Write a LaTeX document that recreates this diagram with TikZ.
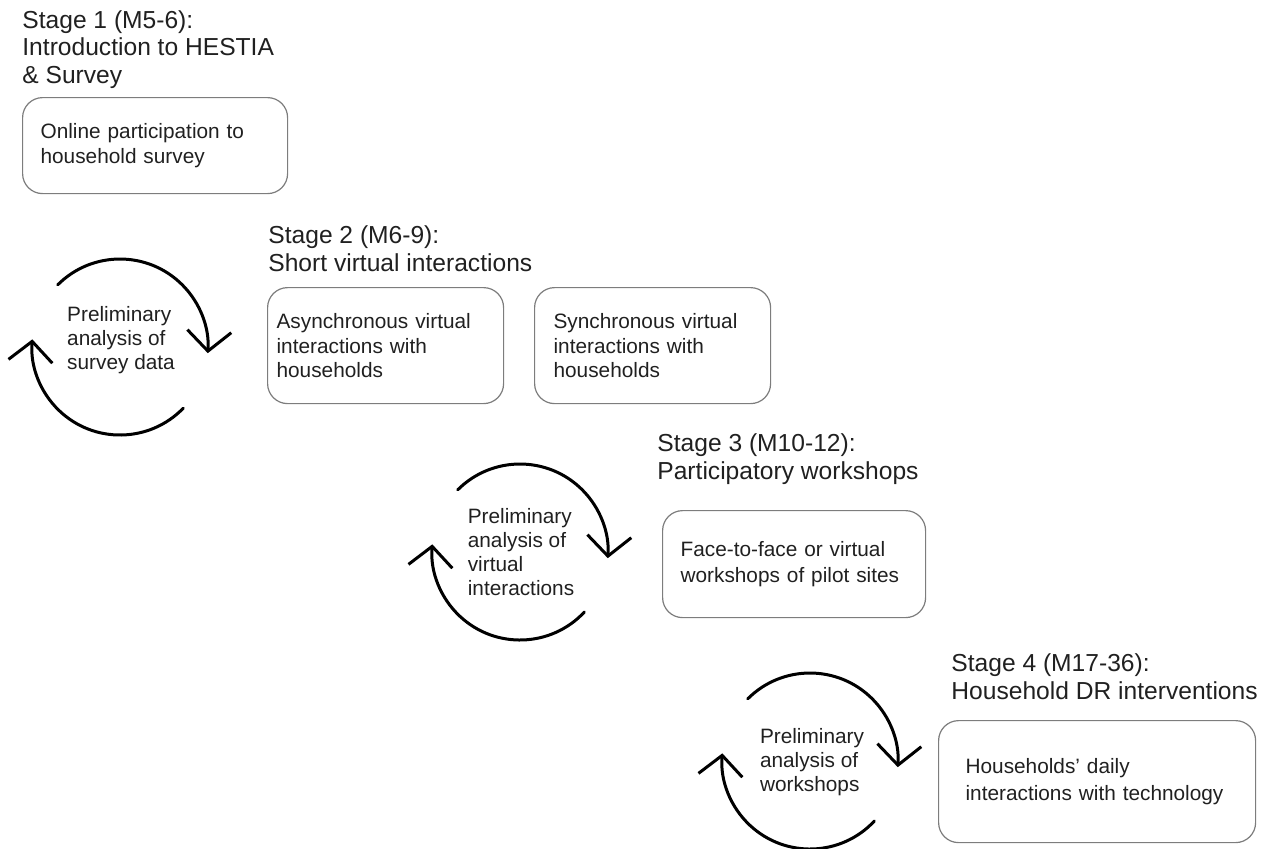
\documentclass[tikz,border=0pt]{standalone}
\usepackage{fontspec}
\setmainfont{Liberation Sans}
\usepackage{pgf,tikz}
\usetikzlibrary{arrows.meta}
\definecolor{xdxdxd}{rgb}{0.49019607843137253,0.49019607843137253,0.49019607843137253}
\definecolor{sqsqsq}{rgb}{0.12549019607843137,0.12549019607843137,0.12549019607843137}

\begin{document}
\begin{tikzpicture}[line cap=round,line join=round,>={Straight Barb[length=10pt,width=22pt]},x=0.5pt,y=0.5pt,
  stagetitle/.style={anchor=base west,inner sep=0pt,align=left,text=sqsqsq,font=\fontsize{12.3}{13.7}\selectfont},
  taskbox/.style={draw=xdxdxd,line width=0.6pt,rounded corners=10pt,anchor=north west,inner xsep=0pt,align=left,text=sqsqsq,font=\fontsize{10.4}{12.2}\selectfont},
  cycletext/.style={inner sep=0pt,align=left,text=sqsqsq,font=\fontsize{10.4}{12}\selectfont},
  cyclearc/.style={line width=1.5pt,->}]
\useasboundingbox (0,0) rectangle (1268,-848);
% stage titles (placed at the baseline of their last line)
\node[stagetitle] (stage1) at (22,-83) {Stage 1 (M5-6):\\Introduction to HESTIA\\\& Survey};
\node[stagetitle] (stage2) at (268,-271) {Stage 2 (M6-9):\\Short virtual interactions};
\node[stagetitle] (stage3) at (657,-479) {Stage 3 (M10-12):\\Participatory workshops};
\node[stagetitle] (stage4) at (951,-699) {Stage 4 (M17-36):\\Household DR interventions};
% activity boxes
\node[taskbox,minimum width=132.5pt,minimum height=48pt,text width=114.5pt] (survey) at (22,-97) {Online participation to\\household survey};
\node[taskbox,minimum width=118pt,minimum height=58pt,text width=109pt] (async) at (267,-287) {Asynchronous virtual\\interactions with\\households};
\node[taskbox,minimum width=118pt,minimum height=58pt,text width=99pt] (sync) at (534,-287) {Synchronous virtual\\interactions with\\households};
\node[taskbox,minimum width=131.5pt,minimum height=53.5pt,text width=113.5pt,font=\fontsize{10.4}{13.2}\selectfont] (workshops) at (662,-510) {Face-to-face or virtual\\workshops of pilot sites};
\node[taskbox,minimum width=158.5pt,minimum height=61pt,text width=131.5pt,font=\fontsize{10.4}{13.2}\selectfont] (daily) at (938,-720) {Households’ daily\\interactions with technology};
% analysis cycles
\coordinate (cyc1) at (120,-347);
\coordinate (cyc2) at (520,-552);
\coordinate (cyc3) at (810,-761);
\node[cycletext] (prelim1) at (121,-340) {Preliminary\\analysis of\\survey data};
\node[cycletext] (prelim2) at (521,-552) {Preliminary\\analysis of\\virtual\\interactions};
\node[cycletext] (prelim3) at (812,-762) {Preliminary\\analysis of\\workshops};
\draw[cyclearc] ([shift={(135:88)}]cyc1) arc[start angle=135,end angle=-4,radius=88];
\draw[cyclearc] ([shift={(-44:88)}]cyc1) arc[start angle=-44,end angle=-185,radius=88];
\draw[cyclearc] ([shift={(135:88)}]cyc2) arc[start angle=135,end angle=-4,radius=88];
\draw[cyclearc] ([shift={(-43:88)}]cyc2) arc[start angle=-43,end angle=-185,radius=88];
\draw[cyclearc] ([shift={(135:88)}]cyc3) arc[start angle=135,end angle=-4,radius=88];
\draw[cyclearc] ([shift={(-43:88)}]cyc3) arc[start angle=-43,end angle=-185,radius=88];
\end{tikzpicture}
\end{document}
